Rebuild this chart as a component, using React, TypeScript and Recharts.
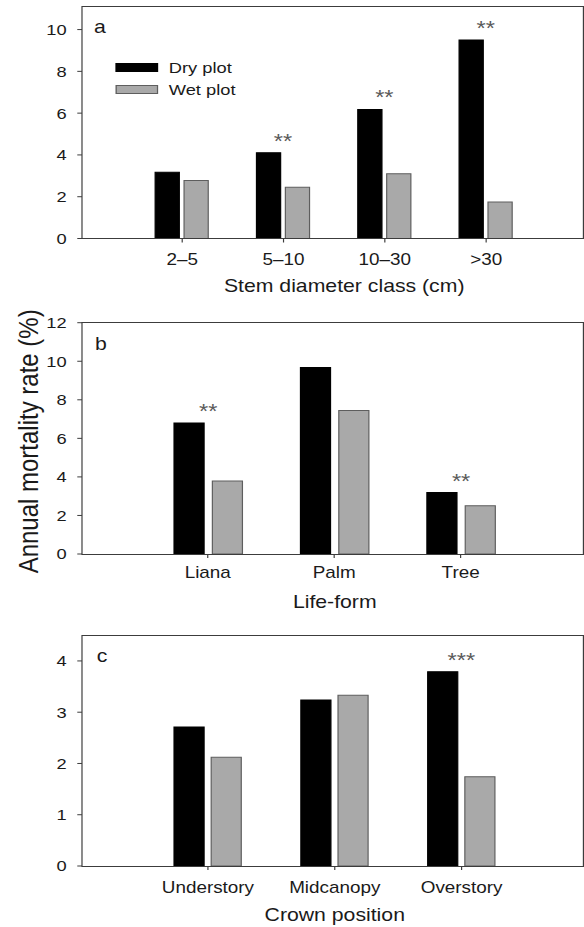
import React from 'react';
import { BarChart, Bar, XAxis, YAxis, Legend, LabelList } from 'recharts';

// (a) stem diameter class
const diameterClasses = ['2–5', '5–10', '10–30', '>30'];
const diameterDry = [3.17, 4.1, 6.18, 9.5];
const diameterWet = [2.78, 2.45, 3.1, 1.75];
const diameterSig = ['', '**', '**', '**'];

// (b) life-form
const lifeForms = ['Liana', 'Palm', 'Tree'];
const lifeFormDry = [6.79, 9.67, 3.19];
const lifeFormWet = [3.79, 7.45, 2.5];
const lifeFormSig = ['**', '', '**'];

// (c) crown position
const crownPositions = ['Understory', 'Midcanopy', 'Overstory'];
const crownDry = [2.71, 3.24, 3.79];
const crownWet = [2.12, 3.33, 1.74];
const crownSig = ['', '', '***'];

const seriesNames = ['Dry plot', 'Wet plot'];

// the source figure is stretched sideways, so lay out narrow and scale in x
const W = 495;
const STRETCH = 584 / W;
const Y_AXIS_W = 69.5;
const RIGHT = 1;

const DRY = '#000000';
const WET = '#a9a9a9';
const WET_EDGE = '#5e5e5e';
const AXIS = '#3c3c3c';
const TEXT = '#1a1a1a';

const toRows = (cats: string[], dry: number[], wet: number[], sig: string[]) =>
    cats.map((cat, i) => ({ cat, dry: dry[i], wet: wet[i], sig: sig[i] }));

const starLabel = (gap: number) => (props: any) => {
    const { x, y, width, value } = props;
    if (!value) return null;
    return (
        <text x={Number(x) + Number(width) + gap / 2} y={Number(y) - 5} textAnchor="middle" fontSize={20} fill="#5a5a5a">
            {value}
        </text>
    );
};

const LegendBox = () => (
    <div style={{ fontSize: 15.5, color: TEXT, lineHeight: '22px' }}>
        {seriesNames.map((name, i) => (
            <div key={name} style={{ display: 'flex', alignItems: 'center', height: 22 }}>
                <span
                    style={{
                        display: 'inline-block',
                        width: 36,
                        height: 9,
                        boxSizing: 'border-box',
                        background: i === 0 ? DRY : WET,
                        border: `1px solid ${i === 0 ? DRY : WET_EDGE}`,
                        marginRight: 9,
                    }}
                />
                {name}
            </div>
        ))}
    </div>
);

const yTitle = (props: any) => {
    const vb = props.viewBox;
    const cx = vb.x + 24;
    const cy = vb.y + vb.height / 2 + 3;
    return (
        <text x={cx} y={cy} transform={`rotate(-90 ${cx} ${cy})`} textAnchor="middle" dominantBaseline="central" fontSize={24} fill={TEXT}>
            Annual mortality rate (%)
        </text>
    );
};

interface PanelProps {
    rows: { cat: string; dry: number; wet: number; sig: string }[];
    top: number;
    height: number;
    marginTop: number;
    marginBottom: number;
    xHeight: number;
    tickMargin: number;
    titleDx: number;
    title: string;
    letter: string;
    letterX: number;
    letterY: number;
    domain: [number, number];
    ticks: number[];
    barSize: number;
    barGap: number;
    padding: { left: number; right: number };
    legend?: boolean;
    withYTitle?: boolean;
}

const Panel: React.FC<PanelProps> = p => {
    const plotH = p.height - p.marginTop - p.marginBottom - p.xHeight;
    return (
        <div style={{ position: 'absolute', top: p.top, left: 0, width: W, height: p.height }}>
            <BarChart
                width={W}
                height={p.height}
                data={p.rows}
                margin={{ top: p.marginTop, right: RIGHT, bottom: p.marginBottom, left: 0 }}
                barSize={p.barSize}
                barGap={p.barGap}
            >
                <XAxis
                    dataKey="cat"
                    interval={0}
                    padding={p.padding}
                    height={p.xHeight}
                    tickSize={4}
                    tickMargin={p.tickMargin}
                    tickLine={{ stroke: AXIS }}
                    axisLine={false}
                    tick={{ fontSize: 16, fill: TEXT }}
                    label={{ value: p.title, position: 'insideBottom', offset: 0, dx: p.titleDx, fontSize: 18, fill: TEXT }}
                />
                <YAxis
                    domain={p.domain}
                    ticks={p.ticks}
                    width={Y_AXIS_W}
                    tickSize={4}
                    tickMargin={9}
                    tickLine={{ stroke: AXIS }}
                    axisLine={false}
                    tick={{ fontSize: 15.5, fill: TEXT }}
                    label={p.withYTitle ? yTitle : undefined}
                />
                {p.legend && (
                    <Legend
                        layout="vertical"
                        align="center"
                        verticalAlign="middle"
                        wrapperStyle={{ top: 56.5, left: 98, width: 'auto' }}
                        content={() => <LegendBox />}
                    />
                )}
                <text x={p.letterX} y={p.letterY} fontSize={18} fill={TEXT}>
                    {p.letter}
                </text>
                <Bar dataKey="dry" name={seriesNames[0]} fill={DRY} stroke={DRY} isAnimationActive={false}>
                    <LabelList dataKey="sig" content={starLabel(p.barGap)} />
                </Bar>
                <Bar dataKey="wet" name={seriesNames[1]} fill={WET} stroke={WET_EDGE} isAnimationActive={false} />
            </BarChart>
            {/* plot frame */}
            <div
                style={{
                    position: 'absolute',
                    left: Y_AXIS_W - 0.75,
                    top: p.marginTop - 0.75,
                    width: W - Y_AXIS_W - RIGHT + 1.5,
                    height: plotH + 1.5,
                    boxSizing: 'border-box',
                    border: `1.5px solid ${AXIS}`,
                    pointerEvents: 'none',
                }}
            />
        </div>
    );
};

export default function App() {
    return (
        <>
            <style>{'body{margin:0}'}</style>
            <div
                style={{
                    position: 'relative',
                    width: W,
                    height: 927,
                    transform: `scaleX(${STRETCH})`,
                    transformOrigin: '0 0',
                    fontFamily: '"Liberation Sans", Arial, Helvetica, sans-serif',
                    background: '#fff',
                }}
            >
                <Panel
                    rows={toRows(diameterClasses, diameterDry, diameterWet, diameterSig)}
                    top={0}
                    height={300}
                    marginTop={7}
                    marginBottom={8}
                    xHeight={53.5}
                    tickMargin={11}
                    titleDx={10}
                    title="Stem diameter class (cm)"
                    letter="a"
                    letterX={79.7}
                    letterY={32.7}
                    domain={[0, 11.08]}
                    ticks={[0, 2, 4, 6, 8, 10]}
                    barSize={20.5}
                    barGap={4}
                    padding={{ left: 42, right: 39 }}
                    legend
                />
                <Panel
                    rows={toRows(lifeForms, lifeFormDry, lifeFormWet, lifeFormSig)}
                    top={300}
                    height={320}
                    marginTop={22.7}
                    marginBottom={11.7}
                    xHeight={54.3}
                    tickMargin={9}
                    titleDx={2}
                    title="Life-form"
                    letter="b"
                    letterX={80.5}
                    letterY={50}
                    domain={[0, 12]}
                    ticks={[0, 2, 4, 6, 8, 10, 12]}
                    barSize={25.5}
                    barGap={7}
                    padding={{ left: 53, right: 50 }}
                    withYTitle
                />
                <Panel
                    rows={toRows(crownPositions, crownDry, crownWet, crownSig)}
                    top={610}
                    height={317}
                    marginTop={25.3}
                    marginBottom={6}
                    xHeight={55}
                    tickMargin={11.5}
                    titleDx={2}
                    title="Crown position"
                    letter="c"
                    letterX={82}
                    letterY={51.7}
                    domain={[0, 4.5]}
                    ticks={[0, 1, 2, 3, 4]}
                    barSize={25.5}
                    barGap={6}
                    padding={{ left: 53, right: 49 }}
                />
            </div>
        </>
    );
}
